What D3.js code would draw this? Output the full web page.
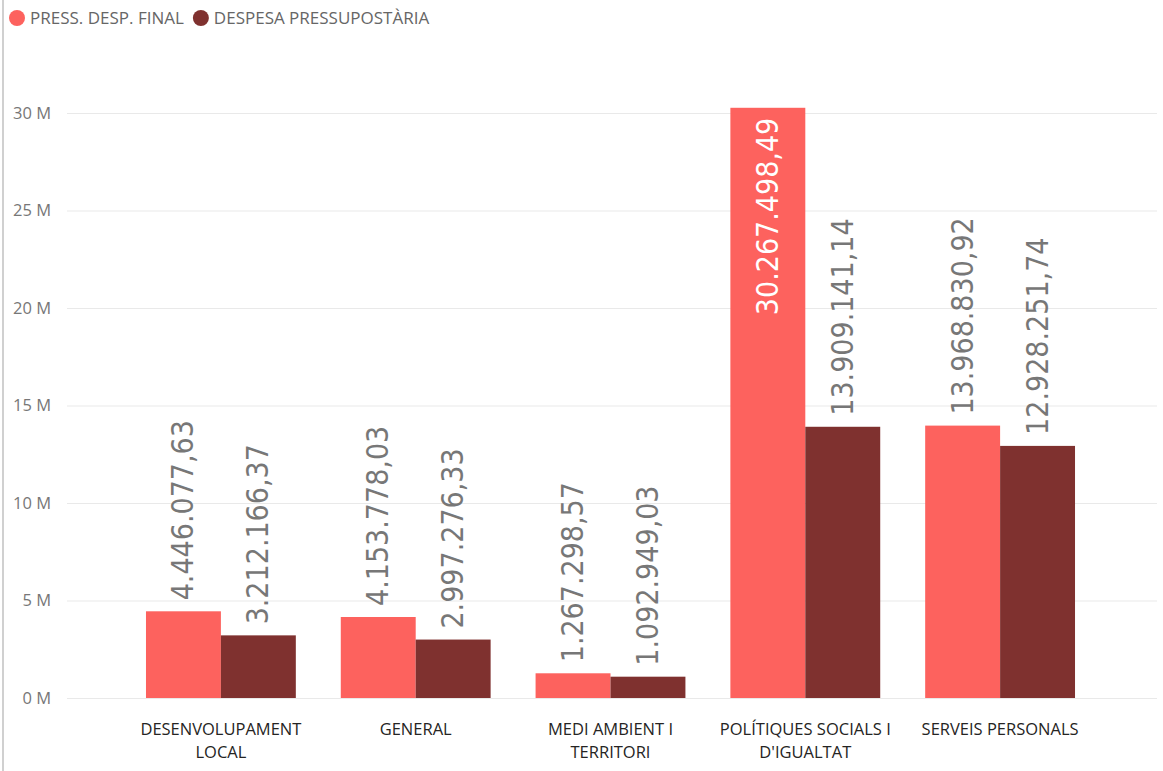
<!DOCTYPE html>
<html>
<head>
<meta charset="utf-8">
<script src="https://cdn.jsdelivr.net/npm/d3@7"></script>
<style>
  body { margin: 0; background: #fff; overflow: hidden; }
  svg { display: block; }
</style>
</head>
<body>
<script>
// chart data
const categories = [
  ['DESENVOLUPAMENT', 'LOCAL'],
  ['GENERAL'],
  ['MEDI AMBIENT I', 'TERRITORI'],
  ['POLÍTIQUES SOCIALS I', "D'IGUALTAT"],
  ['SERVEIS PERSONALS']
];
const seriesNames = ['PRESS. DESP. FINAL', 'DESPESA PRESSUPOSTÀRIA'];
const pressFinal = [4446077.63, 4153778.03, 1267298.57, 30267498.49, 13968830.92];
const despesa = [3212166.37, 2997276.33, 1092949.03, 13909141.14, 12928251.74];
const yTicks = [0, 5e6, 10e6, 15e6, 20e6, 25e6, 30e6];
const colors = ['#FD625E', '#7F312F'];

window.onload = () => {
  const width = 1163,
    height = 771;

  const svg = d3
    .select('body')
    .append('svg')
    .attr('width', width)
    .attr('height', height);

  // left frame edge
  svg.append('rect')
    .attr('x', 2).attr('y', 0)
    .attr('width', 2).attr('height', height)
    .attr('fill', '#d0d0d0');

  const x0 = d3.scaleBand()
    .domain(d3.range(categories.length))
    .range([123.5, 1097.5])
    .paddingInner(0.2308)
    .paddingOuter(0.1154);

  const x1 = d3.scaleBand()
    .domain([0, 1])
    .range([0, x0.bandwidth()]);

  const y = d3.scaleLinear()
    .domain([0, 30e6])
    .range([698, 113]);

  // gridlines + y labels
  const yAxis = d3.axisLeft(y)
    .tickValues(yTicks)
    .tickSize(-(1157 - 67))
    .tickPadding(16)
    .tickFormat(d => (d / 1e6) + ' M');

  const gy = svg.append('g')
    .attr('transform', 'translate(67,0)')
    .call(yAxis);
  gy.select('.domain').remove();
  gy.selectAll('line').attr('stroke', '#e9e9e9').attr('stroke-width', 1);
  gy.selectAll('text')
    .attr('fill', '#777')
    .style('font-family', '"Segoe UI", "Open Sans", sans-serif')
    .style('font-size', '16.5px');

  const fmt = d3.formatLocale({
    decimal: ',', thousands: '.', grouping: [3], currency: ['', ' €']
  }).format(',.2f');

  const rows = categories.map((c, i) => [pressFinal[i], despesa[i]]);

  const groups = svg.append('g')
    .selectAll('g')
    .data(rows)
    .join('g')
    .attr('transform', (d, i) => `translate(${x0(i)},0)`);

  groups.selectAll('rect')
    .data(d => d)
    .join('rect')
    .attr('x', (d, j) => x1(j))
    .attr('y', d => y(d))
    .attr('width', x1.bandwidth())
    .attr('height', d => y(0) - y(d))
    .attr('fill', (d, j) => colors[j]);

  // rotated data labels
  groups.selectAll('text.val')
    .data(d => d)
    .join('text')
    .attr('class', 'val')
    .each(function (d, j) {
      const cx = x1(j) + x1.bandwidth() / 2;
      const top = y(d);
      const inside = top < 200;
      d3.select(this)
        .attr('transform', `translate(${cx + 10},${inside ? top + 10 : top - 11}) rotate(-90)`)
        .attr('text-anchor', inside ? 'end' : 'start')
        .attr('fill', inside ? '#fff' : '#777')
        .style('font-family', '"DejaVu Sans Condensed", "DejaVu Sans", sans-serif')
        .style('font-size', '30px')
        .text(fmt(d));
    });

  // x labels
  const xl = svg.append('g')
    .selectAll('text')
    .data(categories)
    .join('text')
    .attr('x', (d, i) => x0(i) + x0.bandwidth() / 2)
    .attr('y', 735)
    .attr('text-anchor', 'middle')
    .attr('fill', '#252423')
    .style('font-family', '"Segoe UI", "Open Sans", sans-serif')
    .style('font-size', '16.5px');
  xl.selectAll('tspan')
    .data(d => d)
    .join('tspan')
    .attr('x', function () { return d3.select(this.parentNode).attr('x'); })
    .attr('dy', (d, k) => k === 0 ? 0 : 23)
    .text(d => d);

  // legend
  const legend = svg.append('g');
  let lx = 17;
  seriesNames.forEach((name, i) => {
    legend.append('circle')
      .attr('cx', lx).attr('cy', 18).attr('r', 8)
      .attr('fill', colors[i]);
    const t = legend.append('text')
      .attr('x', lx + 13).attr('y', 24)
      .attr('fill', '#666')
      .style('font-family', '"Segoe UI", "Open Sans", sans-serif')
      .style('font-size', '17px')
      .text(name);
    lx += 13 + t.node().getComputedTextLength() + 17;
  });
};
</script>
</body>
</html>
